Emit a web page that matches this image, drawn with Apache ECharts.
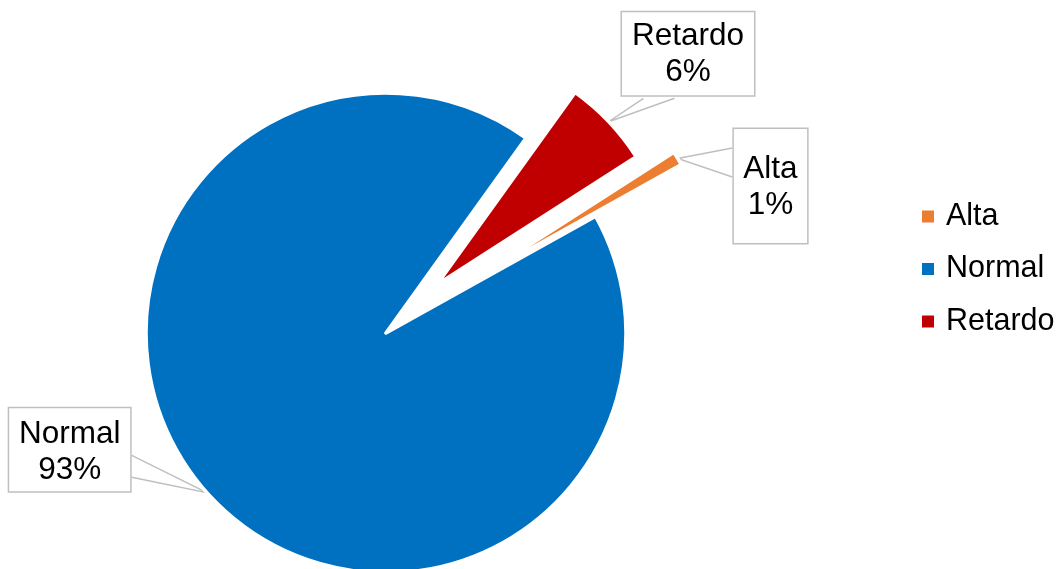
<!DOCTYPE html>
<html>
<head>
<meta charset="utf-8">
<script src="https://cdn.jsdelivr.net/npm/echarts@6/dist/echarts.min.js"></script>
<style>
  html, body { margin: 0; padding: 0; background: #ffffff; }
  #chart { width: 1061px; height: 569px; }
</style>
</head>
<body>
<div id="chart"></div>
<script>
// Data
const categories = ['Alta', 'Normal', 'Retardo'];
const shares = [1, 93, 6];
const sliceColors = ['#ED7D31', '#0070C0', '#C00000'];

const FONT = "'Liberation Sans', Arial, sans-serif";

// Pie geometry (pixels / degrees)
const pieCenter = [386, 333];
const startAngle = 32.7;
const sliceRadius = [230, 240, 237];
const sliceExplode = [110, 0, 70];

// Callout boxes: centre x, top y, padding, side where the pointer attaches and its span
const labelBoxes = [
  { x: 770.5, y: 129, padding: [22, 9.5, 20, 9.5], side: 'left', from: 19, to: 48 },
  { x: 69.7, y: 408.3, padding: [8.5, 9.75, 2.5, 9.75], side: 'right', from: 47, to: 69 },
  { x: 688, y: 12.3, padding: [6, 10, 5, 10], side: 'bottom', from: 23, to: 54 }
];

const total = shares.reduce((a, b) => a + b, 0);

// mid angle of slice i in radians (ECharts convention: counter-clockwise from 3 o'clock)
function midAngle(i) {
  let cum = 0;
  for (let k = 0; k < i; k++) cum += shares[k];
  return (startAngle - 360 * (cum + shares[i] / 2) / total) * Math.PI / 180;
}

// One series per slice so each slice can have its own explosion distance
const series = categories.map((name, i) => {
  const a = midAngle(i);
  const center = [
    pieCenter[0] + sliceExplode[i] * Math.cos(a),
    pieCenter[1] - sliceExplode[i] * Math.sin(a)
  ];
  const box = labelBoxes[i];
  return {
    type: 'pie',
    name: name,
    center: center,
    radius: sliceRadius[i],
    startAngle: startAngle,
    clockwise: true,
    avoidLabelOverlap: false,
    silent: true,
    emphasis: { disabled: true },
    itemStyle: { borderColor: '#ffffff', borderWidth: 3.6 },
    label: {
      show: true,
      position: 'outside',
      formatter: p => p.name + '\n' + Math.round(p.percent) + '%',
      fontFamily: FONT,
      fontSize: 31.5,
      lineHeight: 36,
      color: '#000000',
      align: 'center',
      backgroundColor: '#ffffff',
      borderColor: '#BFBFBF',
      borderWidth: 1.5,
      padding: box.padding
    },
    labelLine: { show: true, lineStyle: { color: '#BFBFBF', width: 1.5 } },
    labelLayout: function (params) {
      if (params.dataIndex !== i) return {};
      const w = params.labelRect.width;
      const h = params.labelRect.height;
      const left = box.x - w / 2;
      const top = box.y;
      const anchor = params.labelLinePoints ? params.labelLinePoints[0] : null;
      const out = { x: box.x, y: box.y, align: 'center', verticalAlign: 'top' };
      if (anchor) {
        let p1, p2;
        if (box.side === 'bottom') {
          p1 = [left + box.from, top + h]; p2 = [left + box.to, top + h];
        } else if (box.side === 'left') {
          p1 = [left, top + box.from]; p2 = [left, top + box.to];
        } else {
          p1 = [left + w, top + box.from]; p2 = [left + w, top + box.to];
        }
        out.labelLinePoints = [p1, [anchor[0], anchor[1]], p2];
      }
      return out;
    },
    data: categories.map((n, k) => k === i
      ? { name: n, value: shares[k], itemStyle: { color: sliceColors[k] } }
      : {
          name: n, value: shares[k],
          itemStyle: { color: 'rgba(0,0,0,0)', borderWidth: 0 },
          label: { show: false }, labelLine: { show: false }
        })
  };
});

const chart = echarts.init(document.getElementById('chart'), null, { renderer: 'canvas' });
chart.setOption({
  backgroundColor: '#ffffff',
  animation: false,
  legend: {
    orient: 'vertical',
    left: 922,
    top: 201,
    padding: 0,
    icon: 'rect',
    itemWidth: 12,
    itemHeight: 12,
    itemGap: 21.5,
    selectedMode: false,
    textStyle: { fontFamily: FONT, fontSize: 30.5, lineHeight: 30, color: '#000000', padding: [0, 0, 0, 7] },
    data: categories.map((n, k) => ({ name: n, itemStyle: { color: sliceColors[k], borderWidth: 0 } }))
  },
  series: series
});
</script>
</body>
</html>
